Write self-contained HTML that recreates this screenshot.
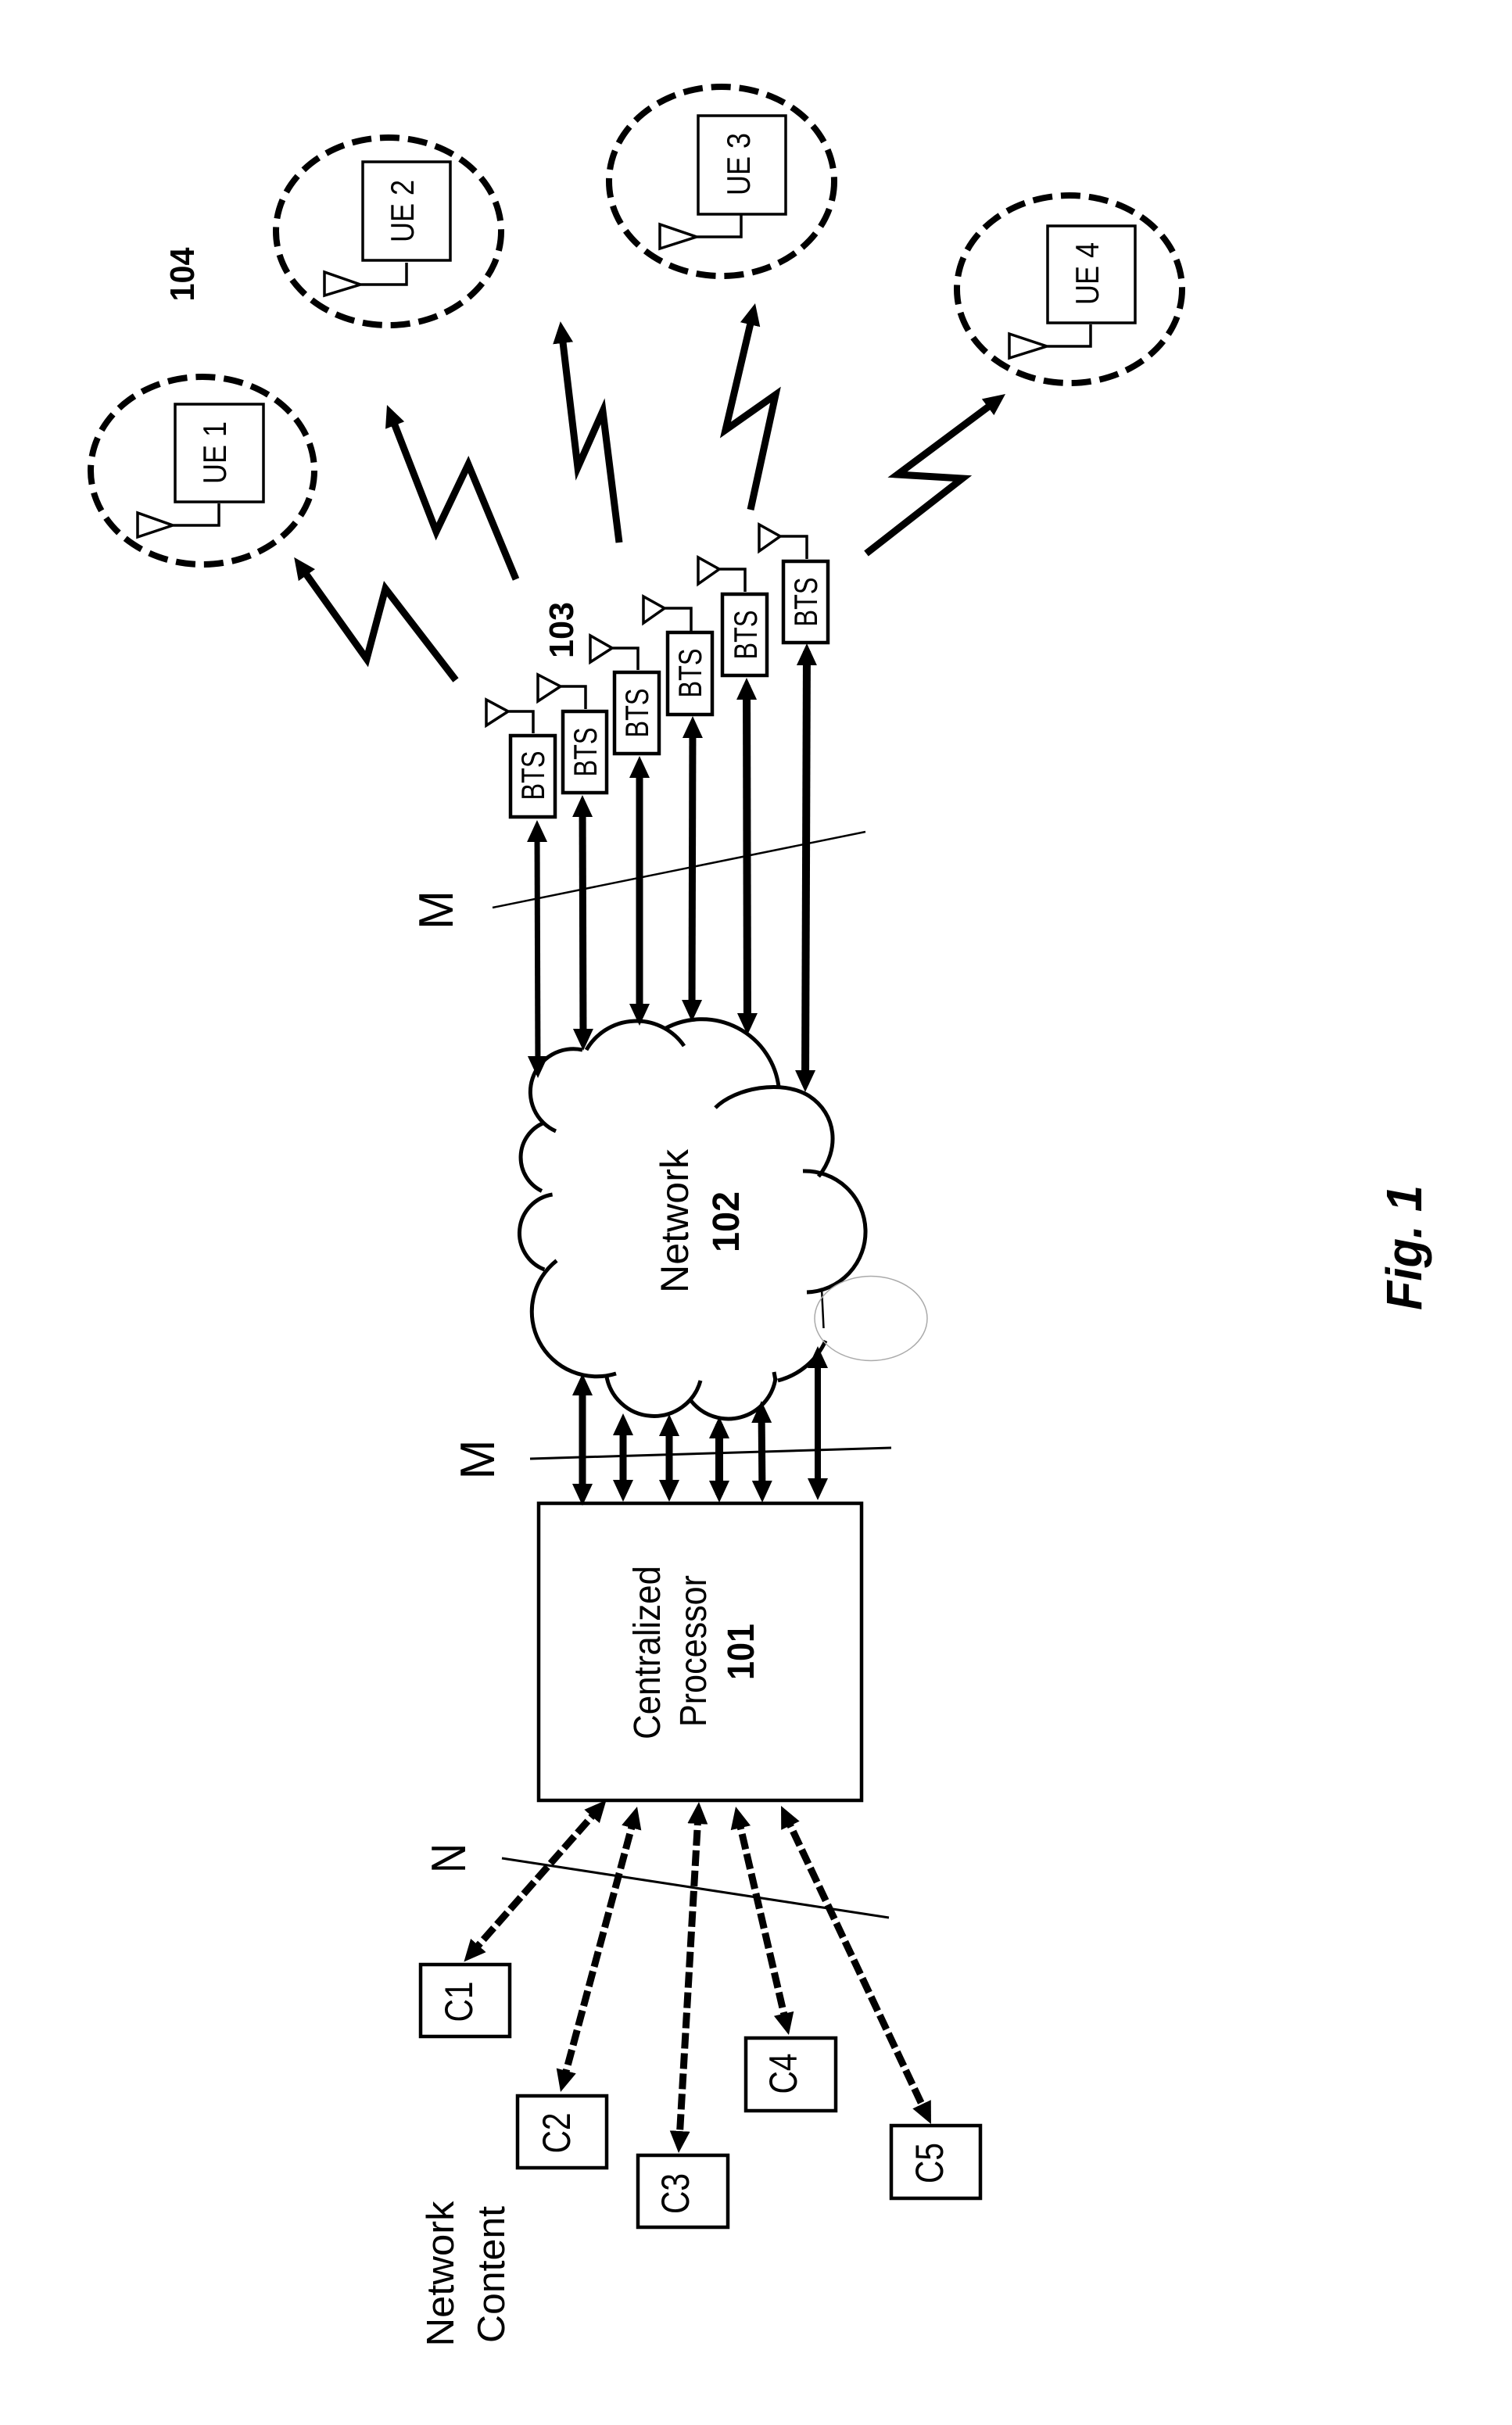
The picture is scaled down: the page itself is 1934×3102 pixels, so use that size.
<!DOCTYPE html>
<html>
<head>
<meta charset="utf-8">
<style>
html,body{margin:0;padding:0;background:#fff;width:1934px;height:3102px;overflow:hidden}
svg{display:block}
text{font-family:"Liberation Sans",sans-serif;fill:#000;text-anchor:middle}
.b{font-weight:bold}
</style>
</head>
<body>
<svg width="1934" height="3102" viewBox="0 0 1934 3102" xmlns="http://www.w3.org/2000/svg">
<defs>
<marker id="h" markerUnits="userSpaceOnUse" markerWidth="34" markerHeight="34" viewBox="0 -17 34 34" refX="18" refY="0" orient="auto-start-reverse">
<path d="M0,-13 L28,0 L0,13 z" fill="#000"/>
</marker>
</defs>
<rect width="1934" height="3102" fill="#fff"/>

<!-- UE ellipses -->
<g fill="none" stroke="#000" stroke-width="8" stroke-dasharray="25 11">
<ellipse cx="259" cy="602" rx="143" ry="120"/>
<ellipse cx="497" cy="296" rx="144" ry="120"/>
<ellipse cx="923" cy="232" rx="144" ry="121"/>
<ellipse cx="1368" cy="370" rx="144" ry="120"/>
</g>
<!-- UE boxes & antennas -->
<g fill="none" stroke="#000" stroke-width="3.5">
<rect x="224" y="517" width="113" height="125"/>
<rect x="464" y="207" width="112" height="126"/>
<rect x="893" y="148" width="112" height="126"/>
<rect x="1340" y="289" width="112" height="124"/>
<path d="M176,656 L176,687 L221,672 z M221,672 H280 V644"/>
<path d="M415,348 L415,378 L461,364 z M461,364 H520 V336"/>
<path d="M844,287 L844,318 L891,303 z M891,303 H948 V275"/>
<path d="M1291,427 L1291,458 L1339,443 z M1339,443 H1395 V415"/>
</g>
<g font-size="42">
<text transform="translate(289,579) rotate(-90)" textLength="80" lengthAdjust="spacingAndGlyphs">UE 1</text>
<text transform="translate(529,270) rotate(-90)" textLength="80" lengthAdjust="spacingAndGlyphs">UE 2</text>
<text transform="translate(959,210) rotate(-90)" textLength="80" lengthAdjust="spacingAndGlyphs">UE 3</text>
<text transform="translate(1405,350) rotate(-90)" textLength="80" lengthAdjust="spacingAndGlyphs">UE 4</text>
</g>
<text class="b" font-size="44" transform="translate(248,351) rotate(-90)" textLength="69" lengthAdjust="spacingAndGlyphs">104</text>
<text class="b" font-size="44" transform="translate(733,806) rotate(-90)" textLength="72" lengthAdjust="spacingAndGlyphs">103</text>

<!-- Lightning bolts -->
<g fill="none" stroke="#000" stroke-width="9" stroke-linejoin="miter">
<polyline points="583,870 493,753 469,843 382,721" marker-end="url(#h)"/>
<polyline points="660,741 599,594 558,680 498.6,527.3" marker-end="url(#h)"/>
<polyline points="792,694 771,526 739,598 718,421" marker-end="url(#h)"/>
<polyline points="960,652 992,505 928,550 963.7,397.7" marker-end="url(#h)"/>
<polyline points="1108,708 1231,612 1148,607 1278,510" marker-end="url(#h)"/>
</g>

<!-- BTS boxes -->
<g fill="none" stroke="#000" stroke-width="4.5">
<rect x="653" y="941" width="57" height="104"/>
<rect x="720" y="910" width="56" height="104"/>
<rect x="786" y="860" width="57" height="104"/>
<rect x="854" y="809" width="57" height="105"/>
<rect x="924" y="760" width="57" height="104"/>
<rect x="1002" y="718" width="57" height="104"/>
</g>
<g fill="none" stroke="#000" stroke-width="3.5">
<path d="M622,895 L622,928 L650,910 z M650,910 H682 V938"/>
<path d="M688,863 L688,897 L717,878 z M717,878 H749 V907"/>
<path d="M755,813 L755,847 L783,829 z M783,829 H816 V857"/>
<path d="M823,763 L823,797 L850,778 z M850,778 H884 V807"/>
<path d="M893,713 L893,747 L920,728 z M920,728 H953 V757"/>
<path d="M971,671 L971,705 L998,686 z M998,686 H1032 V715"/>
</g>
<g font-size="42">
<text transform="translate(696,992) rotate(-90)" textLength="63" lengthAdjust="spacingAndGlyphs">BTS</text>
<text transform="translate(763,962) rotate(-90)" textLength="63" lengthAdjust="spacingAndGlyphs">BTS</text>
<text transform="translate(829,912) rotate(-90)" textLength="63" lengthAdjust="spacingAndGlyphs">BTS</text>
<text transform="translate(897,861) rotate(-90)" textLength="63" lengthAdjust="spacingAndGlyphs">BTS</text>
<text transform="translate(968,812) rotate(-90)" textLength="63" lengthAdjust="spacingAndGlyphs">BTS</text>
<text transform="translate(1045,770) rotate(-90)" textLength="63" lengthAdjust="spacingAndGlyphs">BTS</text>
</g>

<!-- BTS to network arrows -->
<g stroke="#000" fill="none">
<line x1="687" y1="1059" x2="688" y2="1369" stroke-width="7" marker-start="url(#h)" marker-end="url(#h)"/>
<line x1="745" y1="1027" x2="746" y2="1334" stroke-width="9" marker-start="url(#h)" marker-end="url(#h)"/>
<line x1="818" y1="977" x2="818" y2="1302" stroke-width="9" marker-start="url(#h)" marker-end="url(#h)"/>
<line x1="886" y1="926" x2="885" y2="1297" stroke-width="9" marker-start="url(#h)" marker-end="url(#h)"/>
<line x1="955" y1="877" x2="956" y2="1314" stroke-width="10" marker-start="url(#h)" marker-end="url(#h)"/>
<line x1="1032" y1="833" x2="1030" y2="1387" stroke-width="10" marker-start="url(#h)" marker-end="url(#h)"/>
</g>
<line x1="630" y1="1161" x2="1107" y2="1064" stroke="#000" stroke-width="2.5" fill="none"/>
<line x1="678" y1="1866" x2="1140" y2="1852" stroke="#000" stroke-width="3" fill="none"/>
<line x1="642" y1="2377" x2="1137" y2="2453" stroke="#000" stroke-width="3" fill="none"/>
<text font-size="62" transform="translate(579,1164) rotate(-90)" textLength="50" lengthAdjust="spacingAndGlyphs">M</text>
<text font-size="62" transform="translate(632,1867) rotate(-90)" textLength="51" lengthAdjust="spacingAndGlyphs">M</text>
<text font-size="62" transform="translate(595,2377) rotate(-90)" textLength="38" lengthAdjust="spacingAndGlyphs">N</text>

<!-- Cloud -->
<g fill="none" stroke="#000" stroke-width="5">
<path d="M711,1447 A55,55 0 0 1 745,1343"/>
<path d="M750,1343 A74,74 0 0 1 875,1338"/>
<path d="M852,1315 A99,99 0 0 1 996,1390"/>
<path d="M915,1417 C940,1392 1000,1380 1035,1402 C1070,1425 1075,1470 1047,1505"/>
<path d="M1027,1498 A77.5,77.5 0 0 1 1032,1653"/>
<path d="M1056,1715 A92,92 0 0 1 995,1766"/>
<path d="M990,1755 L992,1766"/>
<path d="M992,1763 A61,61 0 0 1 884,1792"/>
<path d="M896,1766 A61.6,61.6 0 0 1 775.5,1758"/>
<path d="M788,1757 A83,83 0 0 1 712,1612.5"/>
<path d="M696.4,1624 A50,50 0 0 1 706.6,1528"/>
<path d="M693,1523.5 A47.8,47.8 0 0 1 696.4,1436"/>
</g>
<line x1="1051" y1="1647.5" x2="1053.5" y2="1699" stroke="#000" stroke-width="2.5"/>
<ellipse cx="1114" cy="1686.5" rx="72" ry="54" fill="none" stroke="#aaa" stroke-width="1.5"/>
<text font-size="50" transform="translate(880,1562) rotate(-90)" textLength="184" lengthAdjust="spacingAndGlyphs">Network</text>
<text class="b" font-size="48" transform="translate(945,1563) rotate(-90)" textLength="78" lengthAdjust="spacingAndGlyphs">102</text>

<!-- Network to processor arrows -->
<g stroke="#000" fill="none">
<line x1="745" y1="1767" x2="745" y2="1916" stroke-width="9" marker-start="url(#h)" marker-end="url(#h)"/>
<line x1="797" y1="1818" x2="797" y2="1911" stroke-width="9" marker-start="url(#h)" marker-end="url(#h)"/>
<line x1="856" y1="1819" x2="856" y2="1911" stroke-width="9" marker-start="url(#h)" marker-end="url(#h)"/>
<line x1="920" y1="1822" x2="920" y2="1912" stroke-width="10" marker-start="url(#h)" marker-end="url(#h)"/>
<line x1="974" y1="1802" x2="975" y2="1912" stroke-width="9" marker-start="url(#h)" marker-end="url(#h)"/>
<line x1="1046" y1="1732" x2="1046" y2="1909" stroke-width="8" marker-start="url(#h)" marker-end="url(#h)"/>
</g>

<!-- Centralized processor -->
<rect x="689" y="1923" width="413" height="380" fill="none" stroke="#000" stroke-width="4.5"/>
<text font-size="48" transform="translate(844,2114) rotate(-90)" textLength="222" lengthAdjust="spacingAndGlyphs">Centralized</text>
<text font-size="48" transform="translate(903,2112) rotate(-90)" textLength="194" lengthAdjust="spacingAndGlyphs">Processor</text>
<text class="b" font-size="48" transform="translate(964,2113) rotate(-90)" textLength="72" lengthAdjust="spacingAndGlyphs">101</text>

<!-- Dashed arrows -->
<g stroke="#000" fill="none" stroke-width="9" stroke-dasharray="20 6">
<line x1="769" y1="2310" x2="600" y2="2502" marker-start="url(#h)" marker-end="url(#h)"/>
<line x1="812.4" y1="2320.7" x2="719.6" y2="2666.3" marker-start="url(#h)" marker-end="url(#h)"/>
<line x1="893.4" y1="2315" x2="868.6" y2="2744" marker-start="url(#h)" marker-end="url(#h)"/>
<line x1="943.3" y1="2320.7" x2="1006.7" y2="2593.3" marker-start="url(#h)" marker-end="url(#h)"/>
<line x1="1003.3" y1="2319" x2="1186.7" y2="2708" marker-start="url(#h)" marker-end="url(#h)"/>
</g>

<!-- Content boxes -->
<g fill="none" stroke="#000" stroke-width="4.5">
<rect x="538" y="2513" width="114" height="92"/>
<rect x="662" y="2681" width="114" height="92"/>
<rect x="816" y="2757" width="115" height="92"/>
<rect x="954" y="2607" width="115" height="93"/>
<rect x="1140" y="2719" width="114" height="93"/>
</g>
<g font-size="50">
<text transform="translate(604,2560.5) rotate(-90)" textLength="52" lengthAdjust="spacingAndGlyphs">C1</text>
<text transform="translate(729,2728.5) rotate(-90)" textLength="52" lengthAdjust="spacingAndGlyphs">C2</text>
<text transform="translate(881,2806) rotate(-90)" textLength="52" lengthAdjust="spacingAndGlyphs">C3</text>
<text transform="translate(1019,2652.5) rotate(-90)" textLength="52" lengthAdjust="spacingAndGlyphs">C4</text>
<text transform="translate(1206,2767) rotate(-90)" textLength="52" lengthAdjust="spacingAndGlyphs">C5</text>
</g>
<text font-size="49" transform="translate(580,2908.5) rotate(-90)" textLength="186" lengthAdjust="spacingAndGlyphs">Network</text>
<text font-size="49" transform="translate(645,2909.5) rotate(-90)" textLength="175" lengthAdjust="spacingAndGlyphs">Content</text>

<!-- Figure label -->
<text class="b" font-style="italic" font-size="64" transform="translate(1818,1596) rotate(-90)" textLength="160" lengthAdjust="spacingAndGlyphs">Fig. 1</text>
</svg>
</body>
</html>
